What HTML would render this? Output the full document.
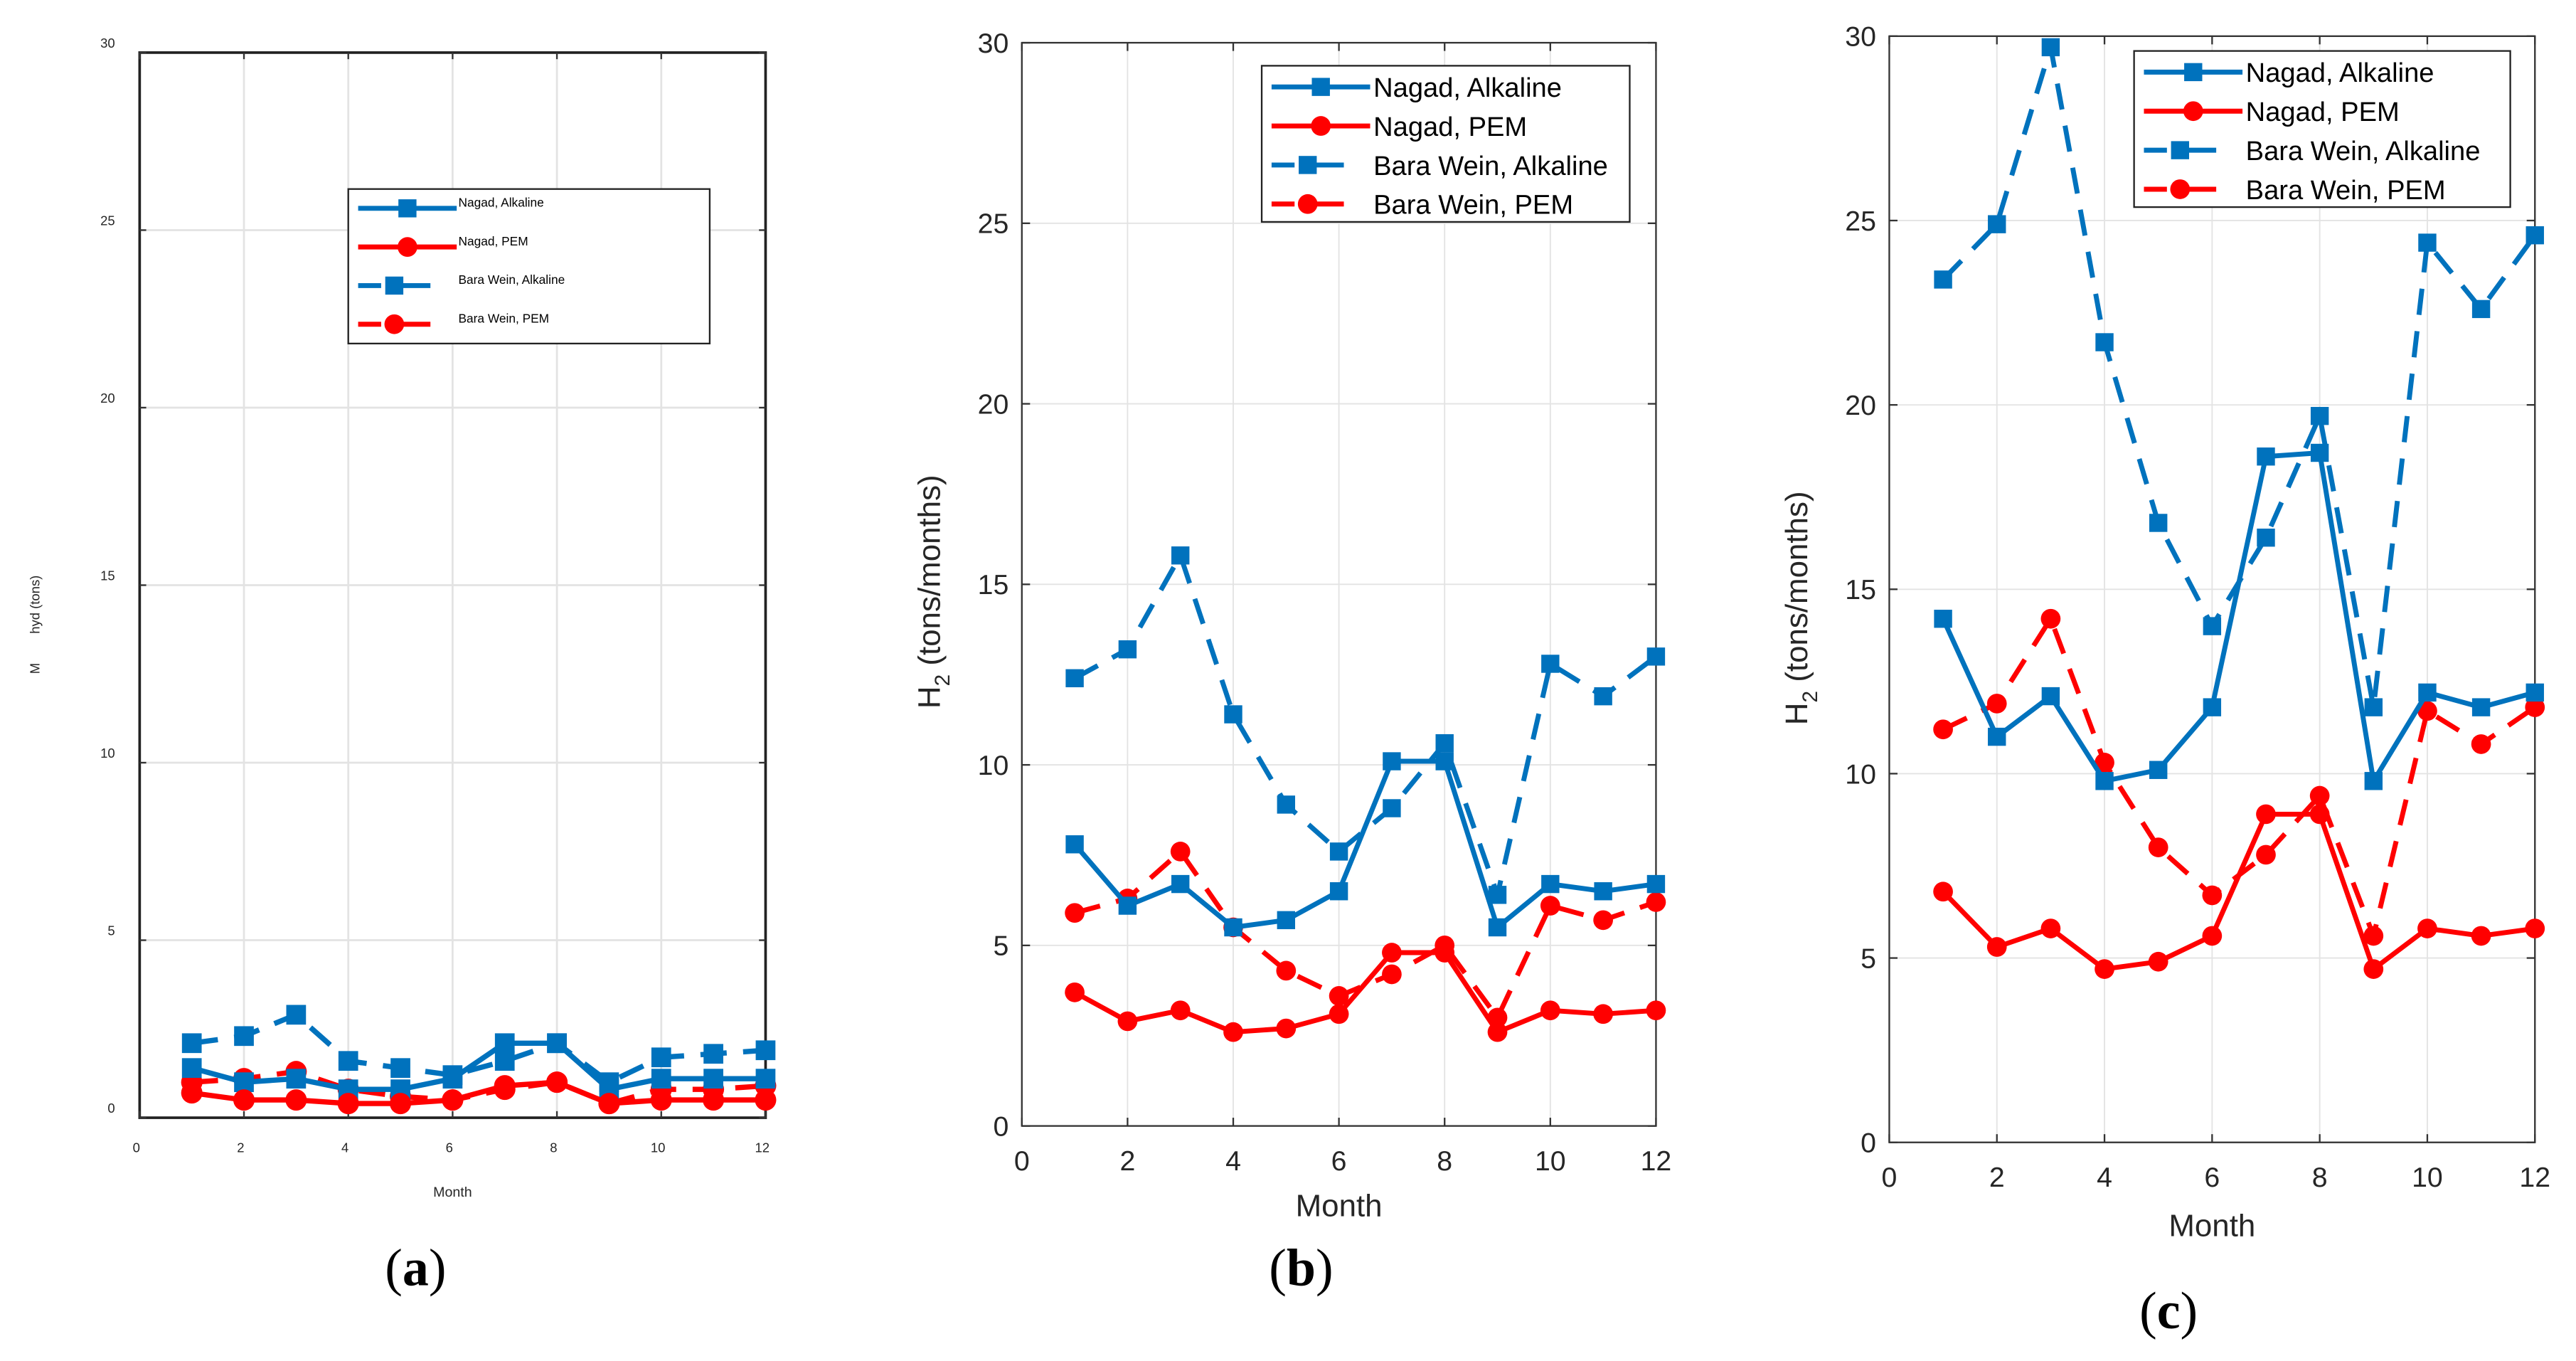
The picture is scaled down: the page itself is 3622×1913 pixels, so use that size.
<!DOCTYPE html>
<html><head><meta charset="utf-8"><style>
html,body{margin:0;padding:0;background:#fff;}
svg{display:block;}
text{font-family:"Liberation Sans",Arial,sans-serif;}
text.cap{font-family:"Liberation Serif",serif;}
</style></head><body>
<svg id="fig" width="3622" height="1913" viewBox="0 0 1568 828" preserveAspectRatio="none" xmlns="http://www.w3.org/2000/svg">
<rect width="1568" height="828" fill="#fff"/>
</svg>
<script>
const months=[1,2,3,4,5,6,7,8,9,10,11,12];
const xTicks=[0,2,4,6,8,10,12];
const yTicks=[0,5,10,15,20,25,30];
const seriesNames=["Nagad, Alkaline","Nagad, PEM","Bara Wein, Alkaline","Bara Wein, PEM"];
const aNagadAlk=[1.4,1.0,1.1,0.8,0.8,1.1,2.1,2.1,0.8,1.1,1.1,1.1];
const aNagadPem=[0.7,0.5,0.5,0.4,0.4,0.5,0.9,1.0,0.4,0.5,0.5,0.5];
const aBaraAlk=[2.1,2.3,2.9,1.6,1.4,1.2,1.6,2.1,1.0,1.7,1.8,1.9];
const aBaraPem=[1.0,1.1,1.3,0.8,0.6,0.5,0.8,1.0,0.4,0.8,0.8,0.9];
const bNagadAlk=[7.8,6.1,6.7,5.5,5.7,6.5,10.1,10.1,5.5,6.7,6.5,6.7];
const bNagadPem=[3.7,2.9,3.2,2.6,2.7,3.1,4.8,4.8,2.6,3.2,3.1,3.2];
const bBaraAlk=[12.4,13.2,15.8,11.4,8.9,7.6,8.8,10.6,6.4,12.8,11.9,13.0];
const bBaraPem=[5.9,6.3,7.6,5.5,4.3,3.6,4.2,5.0,3.0,6.1,5.7,6.2];
const cNagadAlk=[14.2,11.0,12.1,9.8,10.1,11.8,18.6,18.7,9.8,12.2,11.8,12.2];
const cNagadPem=[6.8,5.3,5.8,4.7,4.9,5.6,8.9,8.9,4.7,5.8,5.6,5.8];
const cBaraAlk=[23.4,24.9,29.7,21.7,16.8,14.0,16.4,19.7,11.8,24.4,22.6,24.6];
const cBaraPem=[11.2,11.9,14.2,10.3,8.0,6.7,7.8,9.4,5.6,11.7,10.8,11.8];

const NS="http://www.w3.org/2000/svg";
const svg=document.getElementById('fig');
function mk(tag,attrs,parent){const e=document.createElementNS(NS,tag);for(const k in attrs)e.setAttribute(k,attrs[k]);(parent||svg).appendChild(e);return e;}
const BLUE="#0072BD",RED="#FF0000";

const panels=[
 {id:'a',L:85,R:466,T:32,B:680,data:[aNagadAlk,aNagadPem,aBaraAlk,aBaraPem],small:true,
  leg:[212,115,220,94],cap:[253,782],ylabel:"M        hyd (tons)",ylx:24,yly:380,monthY:728,tickY:701},
 {id:'b',L:622,R:1008,T:26,B:685,data:[bNagadAlk,bNagadPem,bBaraAlk,bBaraPem],small:false,
  leg:[768,40,224,95],cap:[792,782],ylx:572,yly:360,monthY:740,tickY:712},
 {id:'c',L:1150,R:1543,T:22,B:695,data:[cNagadAlk,cNagadPem,cBaraAlk,cBaraPem],small:false,
  leg:[1299,31,229,95],cap:[1320,808],ylx:1100,yly:370,monthY:752,tickY:722}
];

panels.forEach(p=>{
 const g=mk('g',{});
 
 
 const xs=v=>p.L+(v-0)/12*(p.R-p.L);
 const ys=v=>p.B-(v-0)/30*(p.B-p.T);
 xTicks.forEach(t=>{if(t>0&&t<12){const l=mk('line',{x1:xs(t),x2:xs(t),y1:p.T,y2:p.B,stroke:"#e3e3e3","stroke-width":p.small?1.2:0.8},g);}});
 yTicks.forEach(t=>{if(t>0&&t<30){const l=mk('line',{x1:p.L,x2:p.R,y1:ys(t),y2:ys(t),stroke:"#e3e3e3","stroke-width":p.small?1.2:0.8},g);}});
 const bx=mk('rect',{x:p.L,y:p.T,width:p.R-p.L,height:p.B-p.T,fill:"none",stroke:p.small?"#222":"#333","stroke-width":p.small?1.6:1},g);
 
 const tl=p.small?4:5;
 xTicks.forEach(t=>{
  mk('line',{x1:xs(t),x2:xs(t),y1:p.B,y2:p.B-tl,stroke:"#333","stroke-width":1},g);
  mk('line',{x1:xs(t),x2:xs(t),y1:p.T,y2:p.T+tl,stroke:"#333","stroke-width":1},g);
  const tx=mk('text',{x:xs(t)-(p.small?2:0),y:p.tickY,"text-anchor":"middle","font-size":p.small?8:17,fill:"#262626"},g);
  tx.textContent=t;
 });
 yTicks.forEach(t=>{
  mk('line',{x1:p.L,x2:p.L+tl,y1:ys(t),y2:ys(t),stroke:"#333","stroke-width":1},g);
  mk('line',{x1:p.R,x2:p.R-tl,y1:ys(t),y2:ys(t),stroke:"#333","stroke-width":1},g);
  const tx=mk('text',{x:p.small?p.L-15:p.L-8,y:ys(t)+(p.small?-3:6),"text-anchor":"end","font-size":p.small?8:17,fill:"#262626"},g);
  tx.textContent=t;
 });
 const sty=[{c:BLUE,d:null,m:'sq'},{c:RED,d:null,m:'ci'},{c:BLUE,d:"16,10",m:'sq'},{c:RED,d:"16,10",m:'ci'}];
 const order=[2,3,0,1];
 order.forEach(si=>{
  const arr=p.data[si],s=sty[si];
  const pts=months.map((m,i)=>xs(m)+","+ys(arr[i])).join(" ");
  const pl=mk('polyline',{points:pts,fill:"none",stroke:s.c,"stroke-width":p.small?3.2:3,"stroke-dasharray":s.d||"none","stroke-linejoin":"round"},g);
  
  
  months.forEach((m,i)=>{
   let e;
   if(s.m==='sq'){const h=p.small?6:5.5;e=mk('rect',{x:xs(m)-h,y:ys(arr[i])-h,width:2*h,height:2*h,fill:s.c},g);}
   else{e=mk('circle',{cx:xs(m),cy:ys(arr[i]),r:p.small?6.5:6,fill:s.c},g);}
   
   
  });
 });
 const [lx,ly,lw,lh]=p.leg;
 const lb=mk('rect',{x:lx,y:ly,width:lw,height:lh,fill:"#fff",stroke:"#222","stroke-width":1},g);
 
 const rowH=lh/4;
 seriesNames.forEach((n,i)=>{
  const s=sty[i];const cy=ly+rowH*(i+0.5)+(p.small?0:1);
  const x1=lx+6,x2=lx+66,xm=(x1+x2)/2-(s.d?8:0);
  const xe=s.d?x2-16:x2;
  if(s.d){mk('line',{x1:x1,x2:x1+14,y1:cy,y2:cy,stroke:s.c,"stroke-width":3},g);mk('line',{x1:xm,x2:xe,y1:cy,y2:cy,stroke:s.c,"stroke-width":3},g);}
  else mk('line',{x1:x1,x2:x2,y1:cy,y2:cy,stroke:s.c,"stroke-width":3},g);
  if(s.m==='sq')mk('rect',{x:xm-5.5,y:cy-5.5,width:11,height:11,fill:s.c},g);
  else mk('circle',{cx:xm,cy:cy,r:6,fill:s.c},g);
  const t=mk('text',{x:lx+(p.small?67:68),y:cy+(p.small?-1:6),"font-size":p.small?7.5:16.5,fill:"#000"},g);
  t.textContent=n;
  
  
 });
 const mx=mk('text',{x:(p.L+p.R)/2,y:p.monthY,"text-anchor":"middle","font-size":p.small?8.5:19,fill:"#262626"},g);
 mx.textContent="Month";
 const yl=mk('text',{x:0,y:0,"text-anchor":"middle","font-size":p.small?8:19,fill:"#262626",transform:`translate(${p.ylx},${p.yly}) rotate(-90)`,"xml:space":"preserve"},g);
 
 if(p.small){yl.setAttribute('style','white-space:pre');yl.textContent=p.ylabel;}
 else{yl.innerHTML='H<tspan font-size="13" dy="6">2</tspan><tspan dy="-6"> (tons/months)</tspan>';}
 const cap=mk('text',{x:p.cap[0],y:p.cap[1],"text-anchor":"middle","font-size":32,fill:"#000","class":"cap"},g);
 cap.innerHTML='(<tspan font-weight="bold">'+p.id+'</tspan>)';
 
});
</script>
</body></html>
